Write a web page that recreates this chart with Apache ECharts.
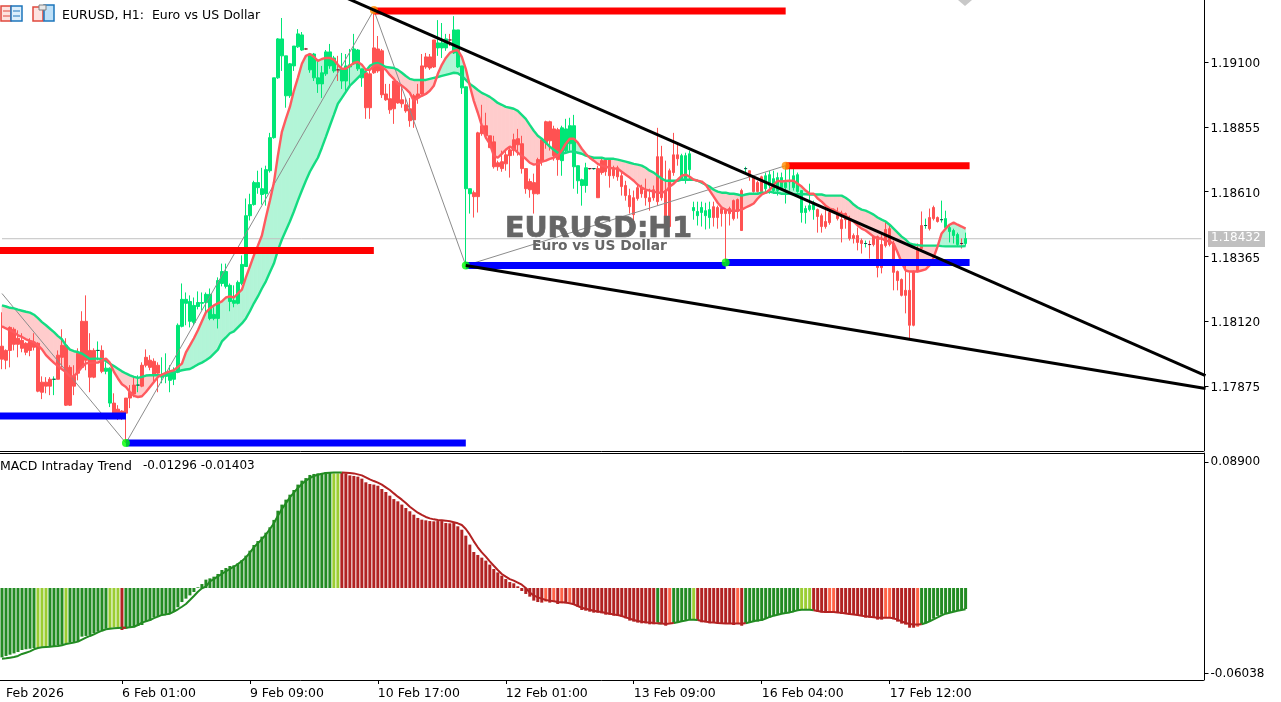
<!DOCTYPE html>
<html>
<head>
<meta charset="utf-8">
<title>EURUSD H1</title>
<style>
html,body{margin:0;padding:0;background:#fff;overflow:hidden}
#main{width:1281px;height:702px}
</style>
<script src="https://cdn.jsdelivr.net/npm/echarts@6/dist/echarts.min.js"></script>
</head>
<body>
<div id="main"></div>
<script>
// prices are in points (1/100000), one value per hourly bar
var candleOpen = [118034,118018,118105,118098,118064,118056,118045,118052,118049,118045,117898,117898,117909,117909,118000,118037,118037,117954,117920,118007,118128,118128,118018,118018,118018,118018,117939,117819,117819,117796,117789,117838,117860,117887,117887,117962,117992,117981,117977,117962,117917,117920,117905,117909,117936,118109,118196,118128,118124,118184,118196,118199,118139,118139,118139,118271,118260,118203,118196,118196,118271,118335,118527,118569,118633,118607,118610,118697,118822,119048,119131,118980,118980,119093,119165,119153,119157,119078,119048,119025,119025,119063,119093,119074,119078,119036,119036,119089,119101,119082,119048,119067,119063,119161,119157,119150,118987,118969,119036,119029,118965,118946,118931,118980,118987,119093,119127,119127,119191,119161,119161,119161,119191,119142,119089,119010,118629,118610,118614,118840,118867,118867,118829,118806,118727,118731,118757,118776,118814,118818,118799,118705,118656,118652,118739,118814,118882,118882,118855,118852,118735,118773,118799,118712,118659,118641,118641,118705,118705,118705,118735,118739,118739,118708,118708,118678,118641,118603,118595,118633,118633,118622,118595,118625,118750,118750,118622,118697,118757,118757,118667,118667,118701,118546,118527,118539,118527,118520,118561,118558,118554,118550,118554,118584,118588,118622,118705,118697,118674,118652,118674,118629,118641,118622,118622,118633,118633,118656,118633,118618,118539,118539,118550,118550,118550,118527,118505,118539,118546,118539,118512,118535,118516,118452,118452,118433,118422,118418,118448,118448,118418,118475,118478,118422,118316,118286,118245,118245,118316,118396,118490,118490,118520,118558,118520,118512,118482,118467,118452,118418,118422,118422];
var candleClose = [117985,117981,118018,118041,118041,118026,118011,118018,118030,117864,117860,117883,117883,117909,117909,117992,117811,117811,117883,117932,117954,117981,117917,117917,118018,117939,117951,117951,117781,117781,117773,117781,117838,117853,117887,117883,117962,117954,117928,117932,117924,117932,117932,117936,118113,118211,118211,118203,118188,118199,118199,118230,118230,118154,118282,118316,118316,118264,118207,118275,118343,118527,118569,118652,118652,118629,118701,118822,119048,119195,119195,119131,119101,119168,119214,119210,119157,119138,119138,119048,119067,119146,119146,119123,119078,119082,119093,119097,119157,119153,119082,118935,118935,119067,119074,118984,118965,118927,118931,118953,118950,118923,118886,118889,118972,118987,119089,119085,119089,119180,119180,119195,119191,119229,119229,119093,119014,118629,118599,118599,118837,118829,118784,118712,118712,118705,118723,118754,118773,118795,118705,118629,118625,118610,118610,118731,118803,118810,118754,118739,118859,118855,118867,118867,118716,118663,118708,118705,118705,118595,118690,118693,118678,118678,118674,118637,118603,118561,118531,118592,118610,118595,118580,118595,118580,118595,118486,118486,118690,118742,118754,118754,118761,118558,118543,118558,118546,118550,118520,118520,118535,118535,118535,118516,118543,118471,118705,118674,118618,118618,118618,118678,118682,118667,118671,118671,118652,118656,118678,118682,118622,118554,118565,118576,118524,118486,118486,118501,118546,118516,118478,118512,118441,118441,118426,118422,118422,118418,118418,118331,118331,118414,118418,118313,118282,118226,118226,118113,118113,118316,118403,118490,118478,118516,118505,118512,118516,118482,118471,118456,118422,118441];
var candleLow = [117947,117947,117954,118018,117992,118011,118000,117996,118018,117860,117834,117856,117849,117849,117909,117954,117808,117808,117849,117905,117951,117943,117860,117913,117981,117932,117928,117804,117777,117755,117755,117672,117800,117841,117860,117879,117954,117943,117894,117860,117894,117894,117860,117887,117932,118105,118113,118105,118113,118173,118169,118158,118132,118132,118101,118260,118252,118166,118181,118192,118264,118335,118509,118565,118610,118569,118565,118690,118818,119044,119074,118935,118972,119074,119161,119150,119153,119067,119036,118991,118972,119055,119082,119067,119036,119006,118999,119018,119097,119074,119014,118893,118893,119063,119067,118972,118961,118912,118874,118950,118935,118916,118863,118859,118950,118984,119082,119078,119085,119131,119123,119150,119168,119138,119085,118987,118339,118535,118520,118539,118829,118818,118784,118705,118697,118693,118697,118671,118754,118754,118686,118610,118595,118535,118607,118716,118780,118773,118735,118678,118678,118765,118773,118629,118610,118565,118614,118701,118701,118595,118682,118678,118633,118667,118659,118603,118584,118535,118478,118584,118595,118565,118546,118584,118565,118584,118486,118482,118678,118716,118659,118648,118659,118512,118490,118486,118475,118478,118486,118478,118486,118350,118490,118509,118516,118471,118690,118659,118614,118614,118614,118610,118610,118610,118603,118622,118573,118622,118622,118614,118501,118497,118543,118512,118463,118463,118478,118493,118539,118509,118426,118478,118433,118422,118396,118384,118407,118365,118411,118294,118309,118407,118411,118245,118245,118222,118158,118060,118109,118313,118396,118478,118471,118509,118501,118501,118478,118426,118422,118411,118403,118414];
var candleHigh = [118162,118022,118109,118105,118094,118083,118049,118064,118083,118049,117920,117917,117917,117920,118018,118098,118064,117962,117962,118026,118166,118226,118083,118026,118052,118037,117973,117954,117856,117811,117792,117838,117887,117917,117924,117973,118022,118000,117988,117973,117992,118007,117962,117954,118120,118271,118237,118226,118218,118241,118237,118237,118252,118181,118294,118346,118346,118271,118264,118282,118377,118592,118610,118659,118697,118708,118716,118840,119048,119198,119274,119131,119104,119168,119232,119221,119161,119142,119142,119119,119093,119153,119176,119131,119131,119142,119138,119157,119214,119157,119082,119074,119074,119300,119206,119157,119025,119025,119036,119036,119025,118972,118972,118987,119025,119138,119142,119138,119191,119266,119255,119214,119214,119281,119229,119093,119014,118629,118622,118844,118946,118916,118829,118829,118735,118773,118773,118784,118837,118855,118829,118705,118667,118686,118746,118818,118886,118886,118867,118859,118867,118893,118897,118908,118716,118667,118727,118705,118705,118716,118742,118742,118742,118716,118716,118690,118659,118629,118622,118648,118644,118667,118629,118641,118859,118791,118735,118705,118840,118799,118761,118765,118773,118580,118580,118580,118576,118580,118580,118565,118558,118554,118561,118588,118592,118629,118712,118697,118678,118659,118678,118690,118697,118697,118690,118690,118716,118705,118705,118690,118622,118565,118648,118584,118554,118535,118565,118546,118554,118558,118546,118539,118527,118460,118482,118441,118433,118433,118452,118452,118460,118509,118490,118433,118320,118290,118339,118313,118320,118422,118543,118516,118554,118565,118524,118584,118546,118490,118478,118463,118441,118463];
var fastLine = [118109,118101,118094,118087,118075,118069,118060,118054,118049,118037,118022,118000,117985,117971,117959,117947,117936,117920,117920,117937,117955,117969,117971,117972,117972,117981,117987,117971,117937,117912,117890,117880,117861,117846,117842,117845,117861,117880,117899,117918,117927,117933,117939,117943,117956,117968,118011,118037,118064,118094,118128,118162,118177,118188,118196,118203,118218,118222,118218,118233,118248,118294,118335,118377,118414,118452,118520,118584,118652,118754,118844,118893,118938,118999,119048,119101,119131,119138,119127,119112,119119,119123,119123,119116,119097,119082,119082,119093,119104,119108,119097,119078,119078,119093,119097,119089,119078,119059,119044,119025,119018,119006,118991,118961,118972,118980,118987,118999,119018,119063,119097,119123,119142,119150,119153,119127,119082,119018,118961,118916,118867,118822,118799,118754,118746,118761,118776,118788,118780,118765,118754,118742,118727,118720,118723,118731,118735,118742,118746,118754,118773,118799,118818,118818,118803,118780,118761,118746,118735,118723,118716,118712,118708,118705,118705,118693,118682,118671,118659,118644,118633,118625,118622,118618,118614,118614,118618,118637,118648,118663,118678,118682,118674,118663,118659,118656,118644,118622,118599,118576,118558,118550,118546,118546,118546,118550,118558,118565,118573,118592,118607,118614,118625,118644,118659,118656,118658,118659,118659,118648,118637,118622,118610,118610,118592,118580,118565,118554,118550,118539,118535,118527,118516,118505,118490,118478,118471,118460,118448,118441,118441,118433,118429,118422,118388,118350,118320,118316,118316,118316,118320,118324,118339,118369,118411,118460,118478,118493,118501,118493,118486,118478];
var slowLine = [118188,118184,118179,118177,118172,118168,118164,118161,118153,118140,118125,118113,118100,118087,118072,118060,118037,118021,118015,118012,118006,117996,117986,117987,117987,117985,117978,117968,117959,117949,117939,117931,117924,117918,117914,117918,117923,117924,117924,117924,117924,117927,117931,117936,117939,117943,117946,117948,117956,117965,117972,117981,117991,118006,118021,118052,118067,118083,118090,118105,118120,118139,118166,118196,118222,118252,118279,118313,118346,118396,118437,118471,118505,118543,118584,118622,118659,118693,118720,118746,118784,118825,118867,118908,118950,118972,118995,119018,119033,119048,119063,119074,119093,119101,119104,119097,119089,119087,119085,119078,119067,119055,119044,119040,119040,119040,119040,119044,119048,119051,119055,119059,119063,119067,119065,119055,119040,119025,119014,119002,118991,118984,118976,118965,118953,118946,118938,118935,118931,118923,118908,118893,118870,118848,118829,118818,118803,118788,118776,118765,118761,118765,118769,118769,118765,118761,118754,118750,118746,118746,118746,118742,118742,118742,118739,118735,118731,118727,118723,118720,118716,118708,118697,118690,118678,118667,118659,118659,118659,118659,118663,118663,118663,118663,118659,118652,118644,118637,118625,118618,118614,118614,118610,118610,118607,118603,118607,118610,118610,118610,118614,118614,118618,118614,118614,118610,118610,118610,118608,118608,118608,118608,118607,118607,118607,118607,118603,118603,118603,118603,118603,118595,118584,118569,118558,118550,118546,118539,118531,118520,118512,118505,118493,118478,118463,118448,118437,118422,118418,118416,118414,118414,118414,118414,118414,118412,118411,118411,118411,118411,118411,118412];
var macdHist = [-.0489,-.0479,-.0470,-.0461,-.0451,-.0437,-.0432,-.0428,-.0423,-.0418,-.0414,-.0414,-.0409,-.0409,-.0404,-.0400,-.0390,-.0385,-.0381,-.0376,-.0343,-.0338,-.0331,-.0320,-.0308,-.0296,-.0287,-.0282,-.0277,-.0277,-.0296,-.0287,-.0282,-.0277,-.0268,-.0261,-.0237,-.0230,-.0207,-.0202,-.0190,-.0183,-.0179,-.0169,-.0136,-.0099,-.0075,-.0052,-.0028,.0005,.0028,.0059,.0068,.0080,.0099,.0127,.0141,.0155,.0160,.0174,.0197,.0228,.0263,.0303,.0331,.0362,.0390,.0428,.0480,.0545,.0588,.0623,.0658,.0691,.0729,.0757,.0775,.0797,.0804,.0808,.0811,.0818,.0818,.0808,.0808,.0811,.0808,.0794,.0790,.0785,.0771,.0745,.0733,.0729,.0721,.0698,.0677,.0651,.0627,.0611,.0588,.0564,.0541,.0517,.0494,.0482,.0477,.0472,.0470,.0472,.0472,.0458,.0456,.0458,.0435,.0411,.0369,.0306,.0254,.0233,.0214,.0193,.0165,.0134,.0110,.0087,.0063,.0042,.0033,.0012,-.0021,-.0042,-.0061,-.0089,-.0099,-.0103,-.0096,-.0103,-.0096,-.0113,-.0108,-.0108,-.0103,-.0120,-.0132,-.0155,-.0160,-.0167,-.0174,-.0174,-.0179,-.0188,-.0188,-.0195,-.0197,-.0202,-.0214,-.0230,-.0237,-.0244,-.0249,-.0249,-.0256,-.0256,-.0244,-.0254,-.0266,-.0254,-.0249,-.0244,-.0237,-.0230,-.0221,-.0221,-.0230,-.0242,-.0242,-.0249,-.0244,-.0249,-.0254,-.0254,-.0254,-.0261,-.0254,-.0266,-.0250,-.0245,-.0240,-.0237,-.0230,-.0216,-.0207,-.0195,-.0188,-.0183,-.0179,-.0172,-.0165,-.0160,-.0150,-.0150,-.0150,-.0160,-.0167,-.0172,-.0174,-.0169,-.0169,-.0172,-.0183,-.0179,-.0188,-.0186,-.0193,-.0197,-.0209,-.0209,-.0207,-.0223,-.0223,-.0209,-.0209,-.0221,-.0237,-.0251,-.0258,-.0280,-.0280,-.0273,-.0258,-.0249,-.0235,-.0216,-.0197,-.0188,-.0179,-.0174,-.0167,-.0162,-.0155,-.0148];
var macdSignal = [-.0498,-.0496,-.0491,-.0486,-.0479,-.0465,-.0456,-.0447,-.0432,-.0423,-.0418,-.0416,-.0414,-.0411,-.0409,-.0404,-.0395,-.0390,-.0385,-.0378,-.0364,-.0350,-.0338,-.0327,-.0313,-.0301,-.0291,-.0287,-.0284,-.0282,-.0280,-.0280,-.0277,-.0273,-.0261,-.0244,-.0235,-.0226,-.0212,-.0202,-.0190,-.0186,-.0181,-.0167,-.0150,-.0132,-.0113,-.0085,-.0056,-.0026,-.0002,.0010,.0047,.0063,.0082,.0099,.0118,.0134,.0150,.0169,.0190,.0216,.0249,.0287,.0315,.0345,.0376,.0416,.0456,.0510,.0557,.0597,.0639,.0672,.0705,.0733,.0757,.0775,.0790,.0799,.0806,.0811,.0813,.0815,.0815,.0815,.0813,.0811,.0808,.0801,.0794,.0780,.0766,.0754,.0743,.0729,.0710,.0691,.0667,.0644,.0623,.0599,.0573,.0552,.0531,.0515,.0501,.0491,.0484,.0479,.0477,.0475,.0470,.0463,.0456,.0444,.0416,.0376,.0329,.0287,.0251,.0221,.0188,.0157,.0127,.0099,.0080,.0063,.0052,.0038,.0023,.0000,-.0033,-.0052,-.0066,-.0075,-.0085,-.0089,-.0094,-.0099,-.0101,-.0103,-.0108,-.0115,-.0127,-.0139,-.0146,-.0153,-.0160,-.0165,-.0169,-.0176,-.0181,-.0186,-.0190,-.0197,-.0207,-.0216,-.0226,-.0233,-.0237,-.0242,-.0244,-.0247,-.0249,-.0251,-.0254,-.0251,-.0247,-.0242,-.0235,-.0230,-.0223,-.0223,-.0226,-.0233,-.0237,-.0242,-.0244,-.0247,-.0249,-.0251,-.0251,-.0251,-.0251,-.0251,-.0249,-.0242,-.0235,-.0228,-.0226,-.0216,-.0204,-.0195,-.0188,-.0181,-.0176,-.0172,-.0165,-.0157,-.0153,-.0153,-.0153,-.0157,-.0162,-.0167,-.0169,-.0169,-.0169,-.0172,-.0174,-.0179,-.0183,-.0186,-.0190,-.0195,-.0200,-.0202,-.0207,-.0209,-.0209,-.0209,-.0209,-.0214,-.0223,-.0235,-.0247,-.0254,-.0258,-.0258,-.0256,-.0247,-.0235,-.0221,-.0207,-.0193,-.0181,-.0174,-.0167,-.0160,-.0155,-.0150];
// colour runs of the histogram: [state, bar count]
var macdRuns = [['g',9],['y',3],['g',4],['y',1],['g',10],['y',3],['r',1],['g',52],['y',2],['r',51],['t',1],['r',1],['t',1],['r',1],['t',1],['r',1],['t',1],['r',21],['g',1],['r',2],['t',1],['g',5],['y',1],['r',10],['t',1],['r',1],['g',14],['y',3],['r',4],['t',2],['r',12],['t',2],['r',6],['t',1],['g',12]];
var macdColors = {g:'#228B22', y:'#9ACD32', r:'#B22222', t:'#FF6347'};

// horizontal levels: [first bar, last bar, price in points]
var redLevels = [[-1,93,118396],[93,196,119300],[196,242,118716]];
var blueLevels = [[-1,31,117770],[31,116,117668],[116,181,118339],[181,242,118350]];
var zigzag = [[0,118233],[31,117668],[93,119304],[116,118339],[196,118716]];
var trendUpper = [[84,119364],[301,117923]];
var trendLower = [[116,118339],[301,117874]];
var greenDots = [[31,117668],[116,118339],[181,118350]];
var orangeDots = [[93,119304],[196,118716]];

var priceTicks = [1.17875,1.18120,1.18365,1.18610,1.18855,1.19100];
var macdTicks = [-0.06038,0.08900];
var timeTickBars = [1,30,62,94,126,158,190,222];
var timeTickText = ['Feb 2026','6 Feb 01:00','9 Feb 09:00','10 Feb 17:00','12 Feb 01:00','13 Feb 09:00','16 Feb 04:00','17 Feb 12:00'];
var lastPrice = 1.18432;
var barSlots = 301;
// my readings came out 8 points high against the axis
var readBias = 8;

function px(p){ return (p - readBias) / 100000; }

var fontName = '"DejaVu Sans"';
var upColor = '#00E676', downColor = '#FF5252';
var categories = [];
for(var i = 0; i < barSlots; i++) categories.push(String(i));

var candleData = [], fillData = [], dojiData = [];
for(var x = 0; x < candleOpen.length; x++){
    candleData.push([px(candleOpen[x]), px(candleClose[x]), px(candleLow[x]), px(candleHigh[x])]);
    if(candleOpen[x] == candleClose[x]) dojiData.push([x, px(candleOpen[x])]);
    if(x < candleOpen.length - 1){
        fillData.push([x, px(fastLine[x]), px(slowLine[x]), px(fastLine[x+1]), px(slowLine[x+1])]);
    }
}

var macdState = [];
macdRuns.forEach(function(run){
    for(var n = 0; n < run[1]; n++) macdState.push(run[0]);
});
var histData = macdHist.map(function(v, k){
    return {value: v, itemStyle: {color: macdColors[macdState[k]]}};
});
function isUp(k){ return macdState[k] == 'g' || macdState[k] == 'y'; }
var signalUp = macdSignal.map(function(v, k){ return (isUp(k) || isUp(k-1)) ? v : null; });
var signalDown = macdSignal.map(function(v, k){ return (!isUp(k) || (k > 0 && !isUp(k-1))) ? v : null; });

function levelSeries(level, color){
    return {
        type: 'line', data: [[level[0], px(level[2])], [level[1], px(level[2])]],
        lineStyle: {color: color, width: 7, cap: 'butt'}, symbol: 'none', z: 5, silent: true
    };
}
function pointLine(points, color, width, z){
    return {
        type: 'line', data: points.map(function(p){ return [p[0], px(p[1])]; }),
        lineStyle: {color: color, width: width}, symbol: 'none', z: z, silent: true
    };
}
function dots(points, color){
    return {
        type: 'scatter', data: points.map(function(p){ return [p[0], px(p[1])]; }),
        symbolSize: 8, itemStyle: {color: color}, z: 6, silent: true
    };
}

// band between the two averages, split where they cross
function renderFill(params, api){
    var i0 = api.value(0), f0 = api.value(1), s0 = api.value(2), f1 = api.value(3), s1 = api.value(4);
    var shapes = [];
    function poly(pts, color){
        shapes.push({
            type: 'polygon',
            shape: {points: pts.map(function(p){ return api.coord(p); })},
            style: {fill: color, stroke: color, lineWidth: 0.8}, silent: true
        });
    }
    var redFill = '#FFCCCC', greenFill = '#B2F5D7';
    var d0 = f0 - s0, d1 = f1 - s1;
    if(d0 * d1 >= 0){
        poly([[i0,f0],[i0+1,f1],[i0+1,s1],[i0,s0]], (d0 + d1) < 0 ? redFill : greenFill);
    }else{
        var t = d0 / (d0 - d1), cx = i0 + t, cy = f0 + (f1 - f0) * t;
        poly([[i0,f0],[cx,cy],[i0,s0]], d0 < 0 ? redFill : greenFill);
        poly([[cx,cy],[i0+1,f1],[i0+1,s1]], d1 < 0 ? redFill : greenFill);
    }
    return {type: 'group', children: shapes};
}

var series = [
    {type:'line', data:[[0,lastPrice],[barSlots-1,lastPrice]], lineStyle:{color:'#C0C0C0',width:1}, symbol:'none', z:1, silent:true},
    {type:'custom', renderItem:renderFill, data:fillData, encode:{x:0,y:[1,2,3,4]}, z:1, silent:true, clip:true},
    {type:'candlestick', data:candleData, barWidth:3, z:2, silent:true,
        itemStyle:{color:upColor,color0:downColor,borderColor:upColor,borderColor0:downColor,borderWidth:1}},
    {type:'scatter', data:dojiData, symbol:'rect', symbolSize:[3,1], itemStyle:{color:'#1a1a40'}, z:3, silent:true},
    pointLine(zigzag, '#8c8c8c', 1, 3),
    {type:'line', data:slowLine.map(px), lineStyle:{color:'#14DC82',width:2.4}, symbol:'none', z:4, silent:true},
    {type:'line', data:fastLine.map(px), lineStyle:{color:'#FF5A5F',width:2.4}, symbol:'none', z:4, silent:true}
];
redLevels.forEach(function(l){ series.push(levelSeries(l, '#FF0000')); });
blueLevels.forEach(function(l){ series.push(levelSeries(l, '#0000FF')); });
series.push(dots(greenDots, '#00FF00'));
series.push(dots(orangeDots, '#FF8C00'));
series.push(pointLine(trendUpper, '#000000', 3, 7));
series.push(pointLine(trendLower, '#000000', 3, 7));
series.forEach(function(s){ s.xAxisIndex = 0; s.yAxisIndex = 0; });
series.push({type:'bar', xAxisIndex:1, yAxisIndex:1, data:histData, barWidth:3, silent:true, z:2});
series.push({type:'line', xAxisIndex:1, yAxisIndex:1, data:signalUp, lineStyle:{color:'#228B22',width:2}, symbol:'none', z:3, silent:true});
series.push({type:'line', xAxisIndex:1, yAxisIndex:1, data:signalDown, lineStyle:{color:'#B22222',width:2}, symbol:'none', z:3, silent:true});

var chart = echarts.init(document.getElementById('main'), null, {renderer:'canvas'});
chart.setOption({
    animation: false,
    backgroundColor: '#fff',
    textStyle: {fontFamily: fontName},
    grid: [
        {left:-0.5, top:-1, width:1204, height:452},
        {left:-0.5, top:453, width:1204, height:227}
    ],
    xAxis: [
        {type:'category', gridIndex:0, data:categories, boundaryGap:true,
            axisLine:{show:true,onZero:false,lineStyle:{color:'#000',width:1}}, axisTick:{show:false}, axisLabel:{show:false}, splitLine:{show:false}},
        {type:'category', gridIndex:1, data:categories, boundaryGap:true,
            axisLine:{show:true,onZero:false,lineStyle:{color:'#000',width:1}},
            axisTick:{show:true,alignWithLabel:true,length:4,lineStyle:{color:'#000'},
                interval:function(idx){ return idx != 1 && timeTickBars.indexOf(idx) >= 0; }},
            axisLabel:{show:true,align:'left',margin:7,fontSize:12.5,color:'#000',fontFamily:fontName,hideOverlap:false,
                interval:function(idx){ return timeTickBars.indexOf(idx) >= 0; },
                formatter:function(v, idx){ return timeTickText[timeTickBars.indexOf(idx)] || ''; }},
            splitLine:{show:false}}
    ],
    yAxis: [
        {type:'value', gridIndex:0, position:'right', offset:1, min:1.17630, max:1.19334, scale:true,
            axisLine:{show:true,lineStyle:{color:'#000'}},
            axisTick:{show:true,length:4,lineStyle:{color:'#000'},customValues:priceTicks},
            axisLabel:{show:true,margin:6,fontSize:12,color:'#000',fontFamily:fontName,customValues:priceTicks,
                formatter:function(v){ return '{a|' + v.toFixed(5) + '}'; },
                rich:{a:{fontSize:12,color:'#000',fontFamily:fontName,padding:[4,0,0,0]}}},
            splitLine:{show:false}},
        {type:'value', gridIndex:1, position:'right', offset:1, min:-0.06486, max:0.09518, scale:true,
            axisLine:{show:true,lineStyle:{color:'#000'}},
            axisTick:{show:true,length:4,lineStyle:{color:'#000'},customValues:macdTicks},
            axisLabel:{show:true,margin:6,fontSize:12,color:'#000',fontFamily:fontName,customValues:macdTicks,
                formatter:function(v){ return v.toFixed(5); }},
            splitLine:{show:false}}
    ],
    graphic: [
        // pane separator
        {type:'line', shape:{x1:0,y1:453.5,x2:1204,y2:453.5}, style:{stroke:'#000',lineWidth:1}, z:10},
        // toolbar icons
        {type:'rect', shape:{x:1,y:6,width:10,height:15}, style:{fill:'#FDE3E0',stroke:'#E0483C',lineWidth:1.5}, z:10},
        {type:'rect', shape:{x:11,y:6,width:11,height:15}, style:{fill:'#DCEEFB',stroke:'#1C75BC',lineWidth:1.5}, z:10},
        {type:'line', shape:{x1:3,y1:11,x2:10,y2:11}, style:{stroke:'#E0483C',lineWidth:1}, z:11},
        {type:'line', shape:{x1:3,y1:16,x2:10,y2:16}, style:{stroke:'#E0483C',lineWidth:1}, z:11},
        {type:'line', shape:{x1:13,y1:11,x2:20,y2:11}, style:{stroke:'#1C75BC',lineWidth:1}, z:11},
        {type:'line', shape:{x1:13,y1:16,x2:20,y2:16}, style:{stroke:'#1C75BC',lineWidth:1}, z:11},
        {type:'rect', shape:{x:33,y:7,width:10,height:14}, style:{fill:'#FDE3E0',stroke:'#E0483C',lineWidth:1.5}, z:10},
        {type:'rect', shape:{x:44,y:5,width:10,height:16}, style:{fill:'#BFE0F7',stroke:'#1C75BC',lineWidth:1.5}, z:10},
        {type:'rect', shape:{x:39,y:5,width:7,height:5}, style:{fill:'#E8E8E8',stroke:'#808080',lineWidth:1}, z:11},
        // marker clipped by the top edge
        {type:'polygon', shape:{points:[[958,0],[972,0],[965,6]]}, style:{fill:'#C8C8C8'}, z:10},
        {type:'text', x:62, y:9, style:{text:'EURUSD, H1:  Euro vs US Dollar', fill:'#000', font:'12.5px '+fontName}, z:10},
        {type:'text', x:0, y:460, style:{text:'MACD Intraday Trend', fill:'#000', font:'12.5px '+fontName}, z:10},
        {type:'text', x:143, y:460, style:{text:'-0.01296 -0.01403', fill:'#000', font:'12px '+fontName}, z:10},
        {type:'text', x:505, y:215, style:{text:'EURUSD:H1', fill:'#666666', stroke:'#666666', lineWidth:0.7, font:'bold 28.5px "DejaVu Sans"'}, z:9},
        {type:'text', x:532, y:239, style:{text:'Euro vs US Dollar', fill:'#666666', font:'bold 13.8px "DejaVu Sans"'}, z:9},
        // last price tag
        {type:'rect', shape:{x:1208,y:231,width:57,height:16}, style:{fill:'#C0C0C0'}, z:10},
        {type:'text', x:1211, y:232, style:{text:lastPrice.toFixed(5), fill:'#fff', font:'12px '+fontName}, z:11}
    ],
    series: series
});
</script>
</body>
</html>
